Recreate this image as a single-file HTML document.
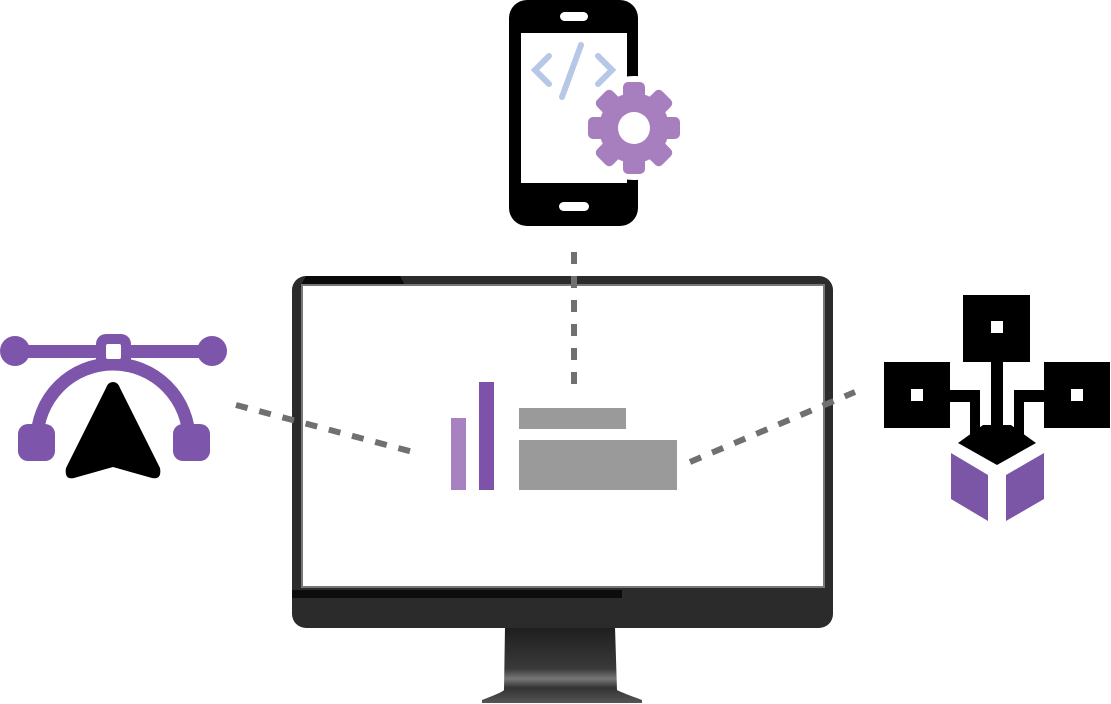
<!DOCTYPE html>
<html><head><meta charset="utf-8"><style>html,body{margin:0;padding:0;background:#fff;width:1111px;height:704px;overflow:hidden}</style></head>
<body>
<svg width="1111" height="704" viewBox="0 0 1111 704" xmlns="http://www.w3.org/2000/svg">
<defs>
<linearGradient id="st" x1="0" y1="0" x2="0" y2="1">
<stop offset="0" stop-color="#1e1e1e"/><stop offset="0.55" stop-color="#3a3a3a"/><stop offset="0.68" stop-color="#777"/><stop offset="0.8" stop-color="#333"/><stop offset="1" stop-color="#555"/>
</linearGradient>
</defs>
<path d="M505,627 L615,627 L617,690 Q620,692 642,700 L642,703 L482,703 L482,700 Q503,692 504,690 Z" fill="url(#st)"/>
<rect x="292" y="276" width="541" height="352" rx="14" fill="#2b2b2b"/>
<path d="M306,276 L400,276 L406,287 L300,287 Z" fill="#0a0a0a"/>
<rect x="292" y="590" width="330" height="8" fill="#0c0c0c"/>
<rect x="302" y="285" width="522" height="302" fill="#fff" stroke="#777" stroke-width="2"/>
<rect x="451" y="418" width="15" height="72" fill="#a882c0"/>
<rect x="479" y="382" width="15" height="108" fill="#7d52a8"/>
<rect x="519" y="408" width="107" height="21" fill="#9a9a9a"/>
<rect x="519" y="440" width="158" height="50" fill="#9a9a9a"/>
<g stroke="#707070" stroke-width="6" stroke-dasharray="12 12" fill="none">
<line x1="574" y1="252" x2="574" y2="386"/>
<line x1="236" y1="405" x2="413" y2="452"/>
<line x1="690" y1="462" x2="855" y2="392"/>
</g>
<rect x="509" y="0" width="129" height="226" rx="18" fill="#000"/>
<rect x="521" y="33" width="106" height="150" fill="#fff"/>
<rect x="560" y="12" width="28" height="9" rx="4.5" fill="#fff"/>
<rect x="559" y="202" width="30" height="9" rx="4.5" fill="#fff"/>
<g stroke="#b6c8e6" stroke-width="6" stroke-linecap="round" fill="none">
<polyline points="549,56 535,70 549,84"/>
<polyline points="598,56 612,70 598,84"/>
<line x1="581" y1="45" x2="562" y2="97"/>
</g>
<circle cx="634" cy="128" r="52" fill="#fff"/>
<g fill="#a87fbe" transform="translate(634,128)">
<circle r="35"/>
<g>
<rect x="-11" y="-46" width="22" height="20" rx="5"/>
<rect x="-11" y="-46" width="22" height="20" rx="5" transform="rotate(45)"/>
<rect x="-11" y="-46" width="22" height="20" rx="5" transform="rotate(90)"/>
<rect x="-11" y="-46" width="22" height="20" rx="5" transform="rotate(135)"/>
<rect x="-11" y="-46" width="22" height="20" rx="5" transform="rotate(180)"/>
<rect x="-11" y="-46" width="22" height="20" rx="5" transform="rotate(225)"/>
<rect x="-11" y="-46" width="22" height="20" rx="5" transform="rotate(270)"/>
<rect x="-11" y="-46" width="22" height="20" rx="5" transform="rotate(315)"/>
</g>
<circle r="16" fill="#fff"/>
</g>
<g fill="#7d55ab">
<rect x="15" y="345" width="197" height="13"/>
<circle cx="15" cy="351" r="15"/>
<circle cx="212" cy="351" r="15"/>
<path d="M37,440 A76,76 0 0 1 189,440" fill="none" stroke="#7d55ab" stroke-width="13"/>
<rect x="96" y="334" width="35" height="35" rx="10"/>
<rect x="18" y="424" width="37" height="37" rx="10"/>
<rect x="173" y="424" width="37" height="37" rx="10"/>
</g>
<rect x="106" y="344" width="15" height="15" rx="2" fill="#fff"/>
<path d="M113,382 Q118,382 120,388 L160,468 Q162,480 152,478 L113,467 L74,478 Q64,480 66,468 L106,388 Q108,382 113,382 Z" fill="#000"/>
<g fill="#000">
<rect x="963" y="295" width="67" height="67"/>
<rect x="884" y="362" width="66" height="66"/>
<rect x="1044" y="362" width="66" height="66"/>
<rect x="991" y="360" width="12" height="80"/>
<path d="M950,390 L980,390 L980,440 L970,440 L970,402 L950,402 Z"/>
<path d="M1044,390 L1014,390 L1014,440 L1024,440 L1024,402 L1044,402 Z"/>
<path d="M958,443 L983,425 L1011,425 L1036,443 L997,465 Z"/>
</g>
<g fill="#fff">
<rect x="991" y="321" width="12" height="12"/>
<rect x="911" y="389" width="12" height="12"/>
<rect x="1071" y="389" width="12" height="12"/>
</g>
<g fill="#7b55a6">
<path d="M951,453 L988,475 L988,521 L951,499 Z"/>
<path d="M1006,475 L1044,453 L1044,499 L1006,521 Z"/>
</g>
</svg>
</body></html>
